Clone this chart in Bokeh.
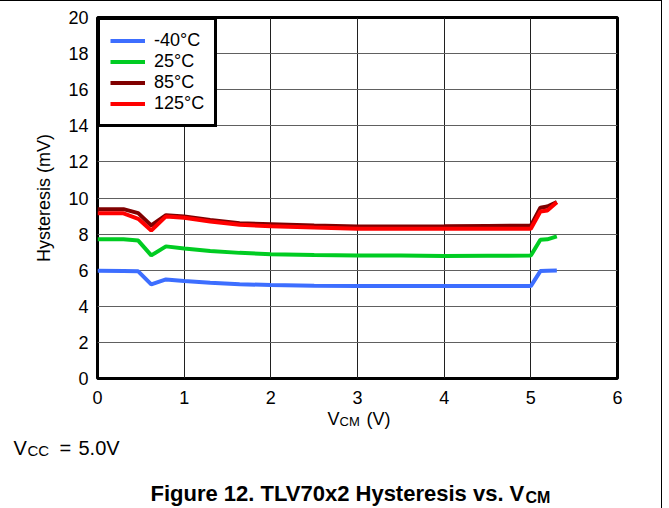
from bokeh.plotting import figure
from bokeh.models import Range1d, Legend, LegendItem, FixedTicker
from bokeh.layouts import column
from bokeh.core.properties import value
from bokeh.embed import file_html
from bokeh.resources import INLINE

# ---- data ----
vcm = [0.0, 0.3, 0.47, 0.62, 0.79, 1.0, 1.3, 1.64, 2.0, 2.5, 3.0, 3.5, 4.0, 4.5, 5.0, 5.11, 5.19, 5.30]
hyst_m40 = [5.97, 5.96, 5.94, 5.21, 5.49, 5.40, 5.30, 5.22, 5.18, 5.14, 5.12, 5.12, 5.12, 5.12, 5.12, 5.95, 5.97, 5.99]
hyst_25 = [7.72, 7.71, 7.64, 6.82, 7.32, 7.20, 7.06, 6.96, 6.89, 6.84, 6.82, 6.81, 6.79, 6.80, 6.81, 7.69, 7.71, 7.87]
hyst_85 = [9.38, 9.38, 9.16, 8.48, 9.05, 8.98, 8.78, 8.60, 8.55, 8.48, 8.42, 8.42, 8.43, 8.45, 8.47, 9.46, 9.53, 9.77]
hyst_125 = [9.16, 9.15, 8.85, 8.20, 8.98, 8.90, 8.70, 8.52, 8.44, 8.36, 8.30, 8.29, 8.29, 8.29, 8.30, 9.25, 9.31, 9.77]
series_names = ["-40°C", "25°C", "85°C", "125°C"]
series_colors = ["#3D6EFF", "#00CC22", "#800000", "#FF0000"]
x_ticks = [0, 1, 2, 3, 4, 5, 6]
y_ticks = [0, 2, 4, 6, 8, 10, 12, 14, 16, 18, 20]

FONT = "Liberation Sans"

W = 661
H1 = 408
ML, MT = 97, 16
FW, FH = 520, 361
MR = W - ML - FW
MB = H1 - MT - FH

p = figure(width=W, height=H1, x_range=Range1d(0, 6), y_range=Range1d(0, 20),
           output_backend="svg", toolbar_location=None,
           min_border_left=ML, min_border_right=MR, min_border_top=MT, min_border_bottom=MB)

p.outline_line_color = "black"
p.outline_line_width = 3
p.background_fill_color = "white"

for ax in (p.xaxis[0], p.yaxis[0]):
    ax.axis_line_color = None
    ax.major_tick_line_color = None
    ax.minor_tick_line_color = None
    ax.major_tick_out = 0
    ax.major_tick_in = 0
    ax.minor_tick_out = 0
    ax.minor_tick_in = 0
    ax.major_label_text_font = FONT
    ax.major_label_text_font_size = "18px"
    ax.major_label_text_color = "black"

p.xaxis.ticker = FixedTicker(ticks=x_ticks)
p.yaxis.ticker = FixedTicker(ticks=y_ticks)
p.xaxis.major_label_standoff = 12
p.yaxis.major_label_standoff = 9

p.yaxis.axis_label = "Hysteresis (mV)"
p.yaxis.axis_label_text_font = FONT
p.yaxis.axis_label_text_font_size = "18px"
p.yaxis.axis_label_text_font_style = "normal"
p.yaxis.axis_label_text_color = "black"
p.yaxis.axis_label_standoff = 11

p.xgrid.ticker = FixedTicker(ticks=x_ticks)
p.ygrid.ticker = FixedTicker(ticks=y_ticks)
p.xgrid.grid_line_color = "#202020"
p.ygrid.grid_line_color = "#606060"
p.xgrid.grid_line_width = 1
p.ygrid.grid_line_width = 1.2

items = []
for name, col, ys in zip(series_names, series_colors, [hyst_m40, hyst_25, hyst_85, hyst_125]):
    r = p.line(vcm, ys, line_color=col, line_width=4)
    items.append(LegendItem(label=name, renderers=[r]))

leg = Legend(items=items, location="top_left", margin=0, padding=10, spacing=0,
             glyph_width=35, glyph_height=21, label_height=21, label_standoff=9,
             label_text_font=FONT, label_text_font_size="18px", label_text_color="black",
             border_line_color="black", border_line_width=3, border_line_alpha=1,
             background_fill_color="white", background_fill_alpha=1)
p.add_layout(leg)

# ---- text strip below the chart (axis title, condition note, caption) ----
OVERLAP = 14
H2 = 114
TOP2 = 416 - OVERLAP  # page y where the strip's coordinate origin lies

t = figure(width=W, height=H2, x_range=Range1d(0, W), y_range=Range1d(H2, 0),
           output_backend="svg", toolbar_location=None,
           min_border=0, min_border_left=0, min_border_right=0,
           min_border_top=0, min_border_bottom=0,
           x_axis_location=None, y_axis_location=None)
if "frame_align" in t.properties():
    t.frame_align = False
    p.frame_align = False
t.margin = (-OVERLAP, 0, 0, 0)
t.outline_line_color = None
t.background_fill_color = None
t.border_fill_color = None
t.xgrid.visible = False
t.ygrid.visible = False


def txt(s, px, py, size, bold=False):
    t.text(x=[px], y=[py - TOP2], text=[s], text_font=value(FONT),
           text_font_size=size, text_font_style="bold" if bold else "normal",
           text_color="black", text_align="left", text_baseline="alphabetic")


# x-axis title V_CM (V)
txt("V", 327, 425, "18px")
txt("CM", 339, 428, "13px")
txt("(V)", 366, 425, "18px")

# V_CC = 5.0V
txt("V", 13, 454, "20px")
txt("CC", 27, 457, "15px")
txt("=", 59, 454, "20px")
txt("5.0V", 78, 454, "20px")

# Figure caption
txt("Figure 12. TLV70x2 Hysteresis vs. V", 150, 500, "22px", bold=True)
txt("CM", 525, 504, "16px", bold=True)

layout = column(p, t, spacing=0,
                styles={"border-top": "1px solid #000", "border-right": "1px solid #000"})

open("out.html", "w").write(file_html(layout, INLINE))
